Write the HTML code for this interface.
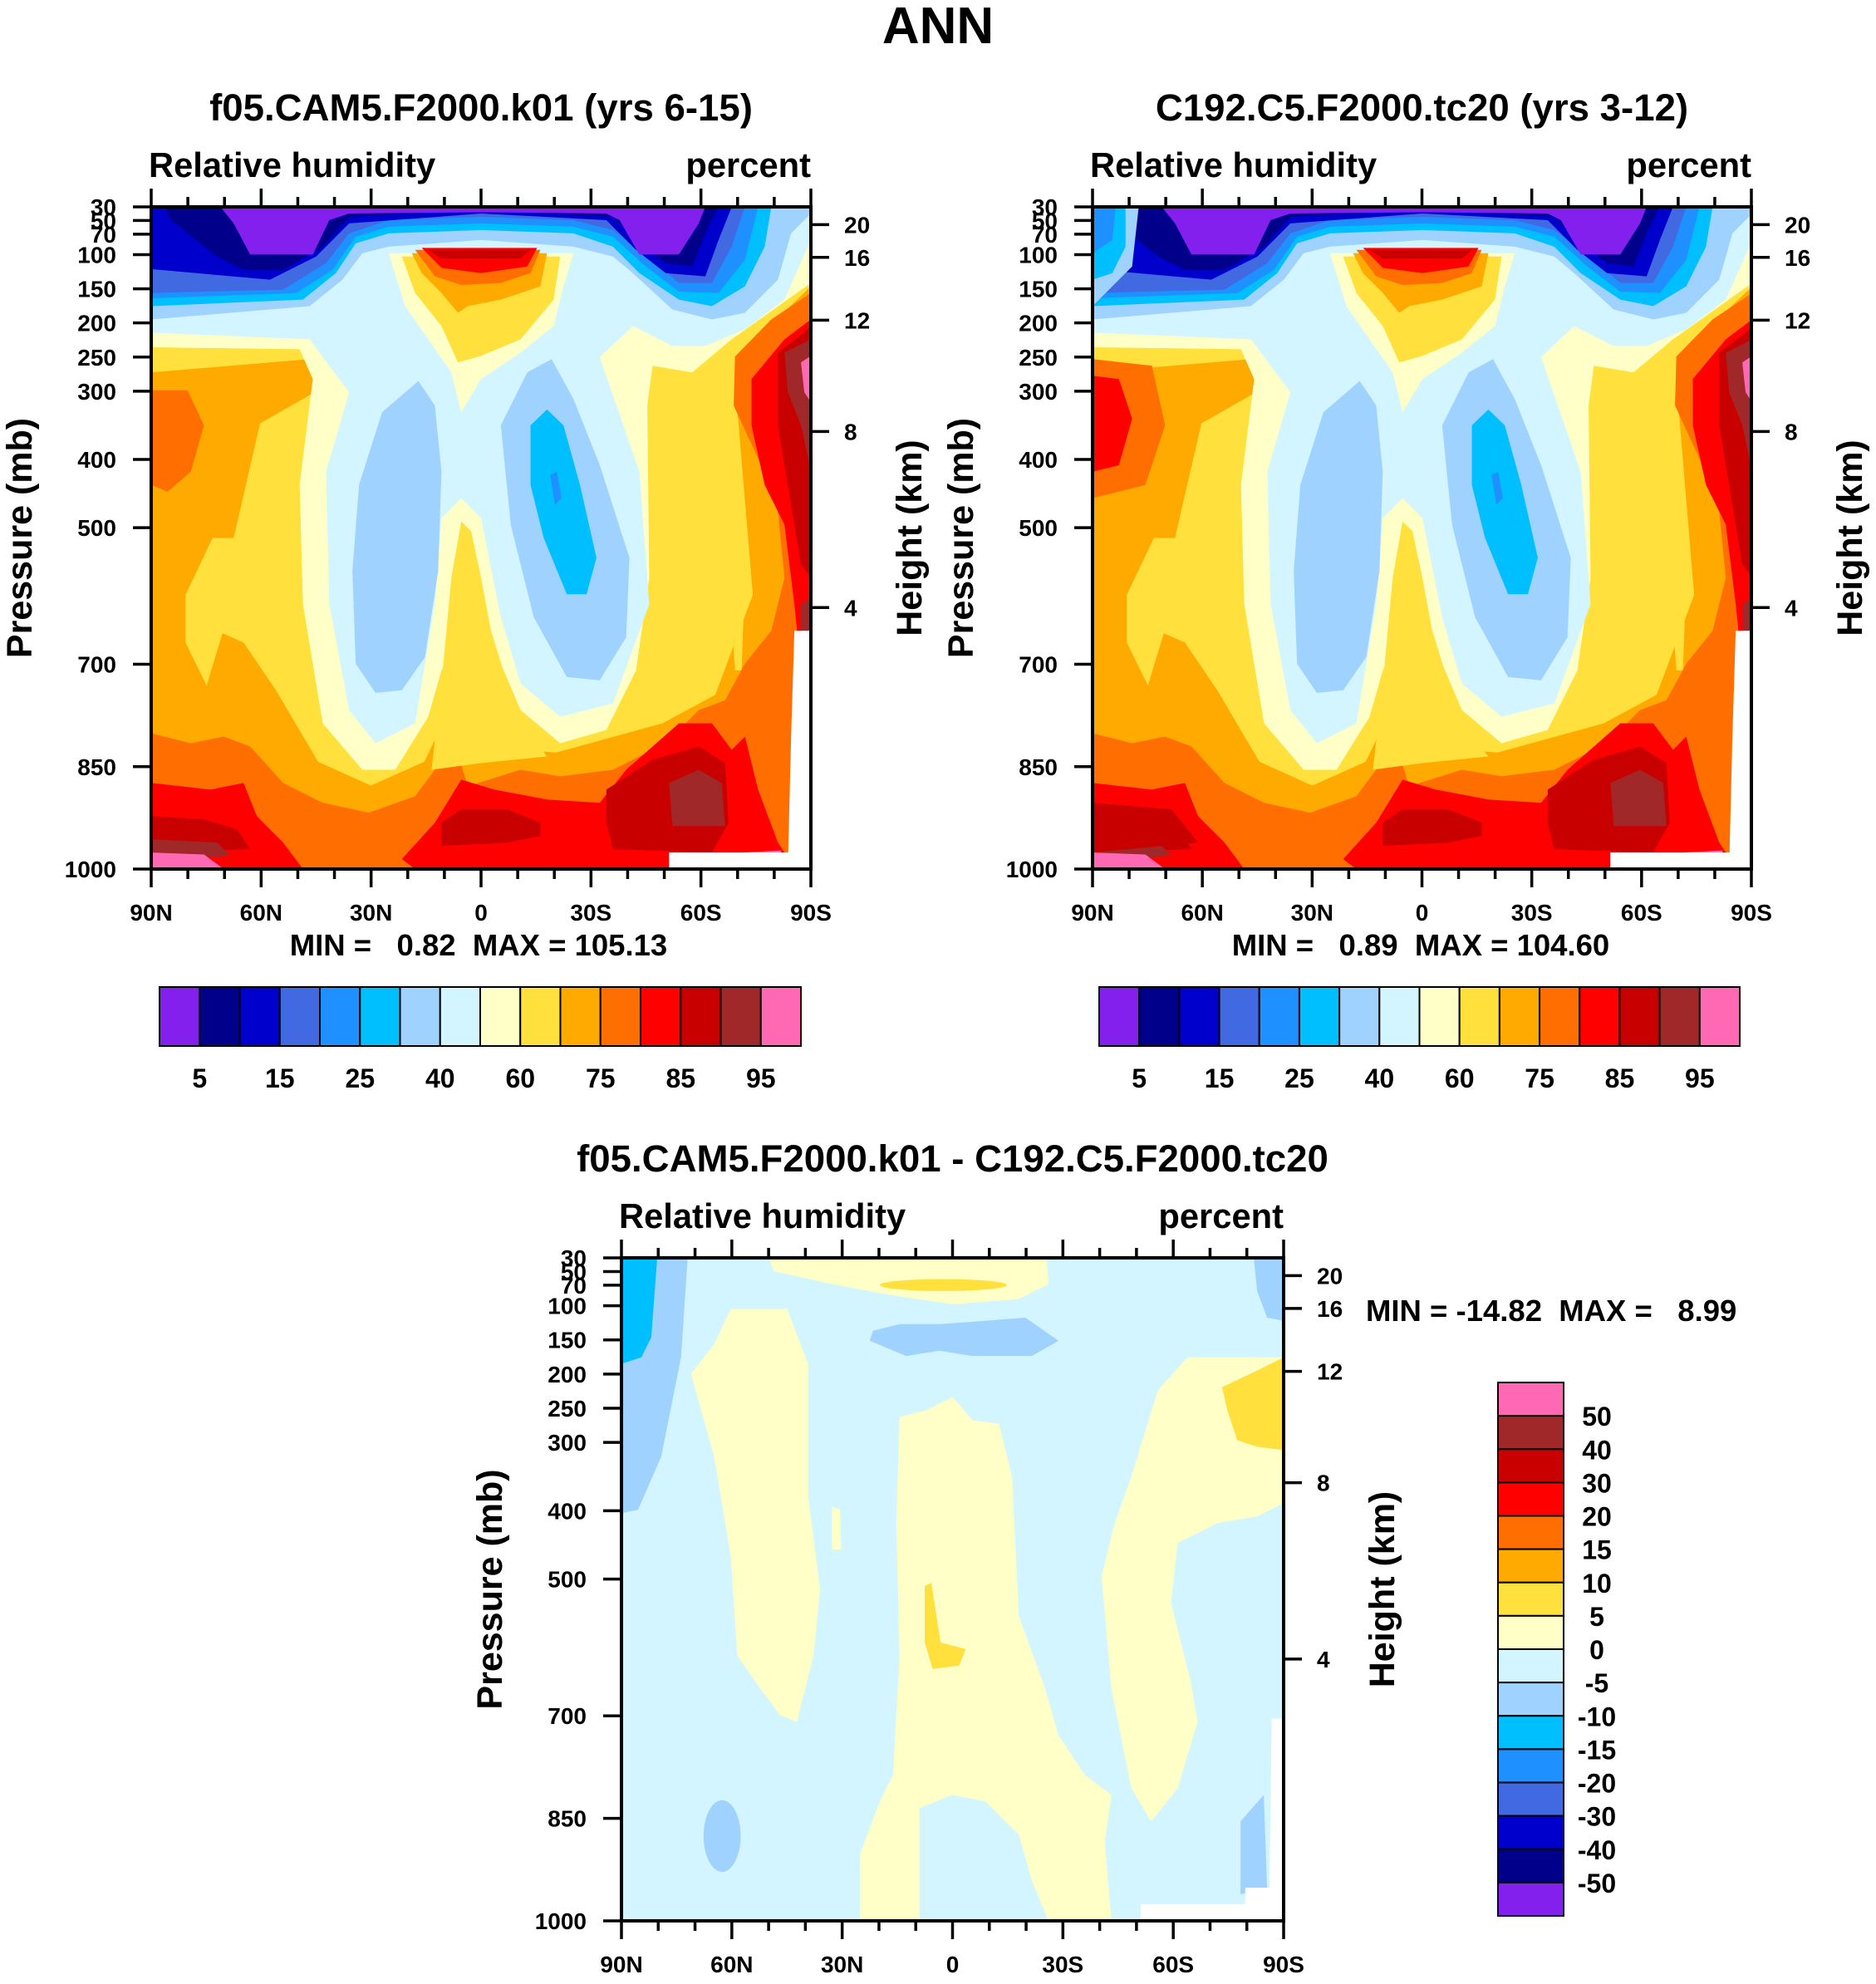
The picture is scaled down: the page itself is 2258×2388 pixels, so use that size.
<!DOCTYPE html>
<html><head><meta charset="utf-8">
<style>
html,body{margin:0;padding:0;background:#fff;}
svg text{font-family:"Liberation Sans",Arial,sans-serif;font-weight:bold;fill:#000;}
</style></head>
<body>
<svg id="root" width="2258" height="2383" viewBox="0 0 2258 2383" xmlns="http://www.w3.org/2000/svg">
<defs>
<symbol id="rhField" viewBox="0 0 1000 1000" preserveAspectRatio="none">
 <rect x="0" y="0" width="1000" height="1000" fill="#FFAA00"/>
 <path fill="#FFE03C" d="M0,100 L1000,100 L1000,120 L904,212 L888,300 L912,586 L855,737 L775,780 L614,824 L518,817 L470,723 L414,838 L333,874 L253,838 L189,730 L140,658 L108,644 L84,723 L52,658 L52,586 L93,500 L125,500 L165,327 L253,277 L240,230 L0,250 Z"/>
 <path fill="#FFE03C" d="M880,480 L893,470 L900,560 L895,700 L885,700 L878,600 Z"/>
 <path fill="#FF6E00" d="M0,277 L55,277 L80,330 L60,400 L25,430 L0,420 Z"/>
 <path fill="#FF6E00" d="M0,795 L60,810 L110,800 L150,815 L200,870 L260,900 L330,915 L400,890 L460,810 L480,875 L560,850 L620,860 L700,850 L780,810 L830,760 L870,745 L900,690 L940,640 L960,560 L950,460 L920,380 L883,300 L885,226 L940,170 L1000,130 L1000,1000 L0,1000 Z"/>
 <path fill="#FF0000" d="M0,870 L90,880 L140,870 L160,920 L200,960 L230,1000 L0,1000 Z"/>
 <path fill="#FF0000" d="M380,985 L430,930 L470,865 L520,880 L600,895 L680,900 L720,850 L800,780 L850,780 L880,820 L900,800 L920,880 L950,960 L960,975 L940,1000 L400,1000 Z"/>
 <path fill="#FF0000" d="M910,260 L960,200 L1000,170 L1000,700 L985,700 L975,600 L960,480 L930,420 L910,330 Z"/>
 <path fill="#C80000" d="M0,920 L80,925 L130,940 L150,970 L0,975 Z"/>
 <path fill="#C80000" d="M440,930 L470,910 L540,910 L590,930 L590,950 L540,960 L440,965 Z"/>
 <path fill="#C80000" d="M690,880 L760,835 L830,815 L870,840 L875,930 L850,975 L700,970 L690,930 Z"/>
 <path fill="#C80000" d="M950,220 L990,190 L1000,180 L1000,560 L985,540 L965,420 L950,330 Z"/>
 <path fill="#A02828" d="M0,955 L100,960 L120,980 L0,985 Z"/>
 <path fill="#A02828" d="M785,870 L830,850 L865,870 L870,935 L790,935 Z"/>
 <path fill="#A02828" d="M960,220 L1000,200 L1000,400 L985,330 L965,280 Z"/>
 <path fill="#A02828" d="M985,600 L1000,590 L1000,640 L985,640 Z"/>
 <path fill="#FF69B4" d="M0,975 L80,978 L110,1000 L0,1000 Z"/>
 <path fill="#FF69B4" d="M985,235 L1000,225 L1000,295 L990,280 Z"/>
 <path fill="#FF69B4" d="M895,975 L955,972 L955,982 L895,982 Z"/>
 <path fill="#FFFFC8" d="M0,0 L1000,0 L1000,115 L880,200 L820,250 L760,240 L752,300 L755,560 L735,700 L690,790 L620,810 L560,760 L530,690 L500,600 L470,640 L440,700 L420,770 L370,850 L320,850 L260,780 L230,600 L225,420 L245,260 L225,215 L0,212 Z"/>
 <path fill="#FFE03C" d="M425,850 L440,720 L455,560 L470,475 L485,490 L500,560 L515,640 L540,720 L570,790 L600,830 L500,840 Z"/>
 <path fill="#D2F5FF" d="M0,0 L1000,0 L1000,50 L960,140 L900,185 L840,210 L790,210 L730,180 L680,227 L740,400 L755,600 L700,750 L620,770 L560,720 L530,620 L500,470 L470,440 L440,470 L430,600 L400,780 L340,810 L300,760 L270,600 L265,400 L300,280 L240,200 L0,190 Z"/>
 <path fill="#A0D2FF" d="M405,263 L430,300 L440,400 L435,550 L415,680 L380,730 L340,734 L310,690 L305,550 L315,420 L350,310 Z"/>
 <path fill="#A0D2FF" d="M607,230 L640,290 L680,390 L725,530 L720,650 L680,715 L630,710 L580,620 L545,480 L530,330 L570,250 Z"/>
 <path fill="#00BFFF" d="M600,306 L625,330 L650,420 L675,530 L660,585 L630,585 L595,500 L575,420 L575,330 Z"/>
 <path fill="#1E90FF" d="M605,405 L615,400 L622,440 L612,450 Z"/>
 <path fill="#A0D2FF" d="M0,0 L1000,0 L1000,10 L970,40 L950,110 L900,160 L850,170 L790,155 L730,100 L700,75 L640,60 L500,50 L360,60 L320,70 L290,110 L240,150 L180,155 L0,170 Z"/>
 <path fill="#00BFFF" d="M0,0 L940,0 L930,60 L900,120 L850,150 L800,140 L740,100 L700,60 L640,40 L500,35 L360,40 L310,55 L280,100 L230,140 L0,150 Z"/>
 <path fill="#1E90FF" d="M0,0 L920,0 L900,80 L860,130 L800,128 L750,90 L700,45 L640,30 L500,25 L360,30 L310,45 L275,95 L220,130 L0,138 Z"/>
 <path fill="#4169E1" d="M0,0 L900,0 L880,60 L850,115 L800,115 L760,80 L700,35 L640,20 L500,15 L360,20 L300,40 L265,85 L200,125 L0,130 Z"/>
 <path fill="#0000CD" d="M0,0 L880,0 L860,50 L840,105 L780,100 L735,65 L690,20 L500,10 L300,25 L250,75 L180,110 L0,94 Z"/>
 <path fill="#00008B" d="M20,0 L860,0 L840,40 L820,90 L780,85 L740,55 L700,15 L500,5 L300,15 L260,60 L200,95 L140,95 L100,75 L30,20 Z"/>
 <path fill="#8420EE" d="M105,0 L840,0 L830,25 L800,72 L740,72 L710,20 L690,10 L500,8 L300,10 L270,20 L245,72 L150,72 L125,25 Z"/>
 <path fill="#FFFFC8" d="M360,70 L640,70 L625,120 L610,180 L560,220 L500,260 L470,310 L455,250 L420,200 L385,150 Z"/>
 <path fill="#FFE03C" d="M380,75 L620,75 L610,140 L560,200 L500,225 L465,235 L440,180 L400,130 Z"/>
 <path fill="#FFAA00" d="M395,70 L600,70 L590,120 L530,140 L480,150 L465,160 L440,130 L410,100 Z"/>
 <path fill="#FF6E00" d="M400,65 L590,65 L575,100 L530,115 L470,118 L430,105 Z"/>
 <path fill="#FF0000" d="M410,62 L585,62 L570,90 L500,100 L440,92 Z"/>
 <path fill="#C80000" d="M420,65 L575,65 L560,78 L440,78 Z"/>
 <path fill="#FFFFFF" d="M785,975 L1000,975 L1000,1000 L785,1000 Z"/>
 <path fill="#FFFFFF" d="M975,640 L1000,640 L1000,1000 L965,1000 L970,800 Z"/>
</symbol>
</defs>

<g id="panel1">
 <use href="#rhField" x="182" y="249" width="794" height="797"/>
</g>
<g id="panel2">
 <use href="#rhField" x="1315" y="249" width="794" height="797"/>
 <svg x="1315" y="249" width="794" height="797" viewBox="0 0 1000 1000" preserveAspectRatio="none">
  <path fill="#FF6E00" d="M0,230 L90,240 L110,330 L80,420 L0,440 Z"/>
  <path fill="#FF0000" d="M0,255 L40,260 L60,320 L40,390 L0,400 Z"/>
  <path fill="#A0D2FF" d="M0,0 L70,0 L60,90 L0,150 Z"/>
  <path fill="#00BFFF" d="M0,0 L50,0 L50,60 L30,100 L0,110 Z"/>
  <path fill="#1E90FF" d="M0,0 L35,0 L30,50 L0,70 Z"/>
  <path fill="#C80000" d="M0,900 L120,910 L160,960 L0,975 Z"/>
 </svg>
</g>
<g id="panel3">
 <svg x="748" y="1514" width="797" height="798" viewBox="0 0 1000 1000" preserveAspectRatio="none">
  <rect x="0" y="0" width="1000" height="1000" fill="#D2F5FF"/>
  <path fill="#A0D2FF" d="M0,0 L100,0 L90,150 L60,300 L25,380 L0,385 Z"/>
  <path fill="#00BFFF" d="M0,0 L54,0 L45,120 L30,150 L0,160 Z"/>
  <path fill="#A0D2FF" d="M955,0 L1000,0 L1000,95 L975,90 L960,50 Z"/>
  <path fill="#A0D2FF" d="M935,850 L970,810 L975,950 L935,960 Z"/>
  <path fill="#FFFFC8" d="M222,0 L642,0 L645,40 L600,62 L500,70 L400,55 L320,40 L230,20 Z"/>
  <ellipse fill="#FFE03C" cx="486" cy="41" rx="96" ry="9"/>
  <path fill="#A0D2FF" d="M380,110 L420,100 L480,100 L550,95 L610,90 L660,125 L620,148 L530,148 L480,140 L430,148 L375,125 Z"/>
  <path fill="#FFFFC8" d="M165,77 L250,77 L282,160 L282,360 L300,500 L290,600 L265,700 L240,690 L210,650 L175,600 L165,450 L140,300 L105,175 L140,130 Z"/>
  <path fill="#FFFFC8" d="M318,375 L330,380 L332,440 L318,440 Z"/>
  <path fill="#FFFFC8" d="M420,240 L460,230 L500,210 L530,245 L570,250 L590,330 L600,540 L640,650 L660,720 L700,780 L740,810 L730,880 L740,1000 L360,1000 L360,900 L390,820 L410,780 L420,600 L415,400 Z"/>
  <path fill="#D2F5FF" d="M450,1000 L450,830 L500,810 L550,820 L600,870 L620,940 L645,1000 Z"/>
  <path fill="#FFE03C" d="M458,495 L468,490 L482,580 L520,590 L510,615 L470,620 L458,580 Z"/>
  <path fill="#FFFFC8" d="M855,150 L1000,150 L1000,370 L960,390 L900,400 L840,430 L830,520 L860,640 L870,700 L840,800 L800,850 L770,800 L740,650 L725,480 L745,400 L770,330 L810,200 Z"/>
  <path fill="#FFE03C" d="M907,195 L960,170 L1000,150 L1000,290 L960,285 L930,275 L915,230 Z"/>
  <ellipse fill="#A0D2FF" cx="152" cy="872" rx="28" ry="54"/>
  <path fill="#FFFFFF" d="M784,975 L942,975 L942,950 L1000,950 L1000,1000 L784,1000 Z"/>
  <path fill="#FFFFFF" d="M982,695 L1000,695 L1000,1000 L978,1000 Z"/>
 </svg>
</g>
<g id="axes"></g>
</svg>

<script>
const pTicks = [30,50,70,100,150,200,250,300,400,500,700,850,1000];
const hLabels = [20,16,12,8,4];
const hPress = [56,104,196,359,617];
const latLabels = ["90N","60N","30N","0","30S","60S","90S"];
const latMajor = [-90,-60,-30,0,30,60,90];
const cbColorsH = ["#8420EE","#00008B","#0000CD","#4169E1","#1E90FF","#00BFFF","#A0D2FF","#D2F5FF","#FFFFC8","#FFE03C","#FFAA00","#FF6E00","#FF0000","#C80000","#A02828","#FF69B4"];
const cbLabelsH = ["5","15","25","40","60","75","85","95"];
const cbColorsV = ["#FF69B4","#A02828","#C80000","#FF0000","#FF6E00","#FFAA00","#FFE03C","#FFFFC8","#D2F5FF","#A0D2FF","#00BFFF","#1E90FF","#4169E1","#0000CD","#00008B","#8420EE"];
const cbLabelsV = ["50","40","30","20","15","10","5","0","-5","-10","-15","-20","-30","-40","-50"];

const NS = "http://www.w3.org/2000/svg";
const axes = document.getElementById('axes');
function mk(tag, attrs, parent){
  const e = document.createElementNS(NS, tag);
  for (const k in attrs) e.setAttribute(k, attrs[k]);
  (parent||axes).appendChild(e);
  return e;
}
function txt(x,y,s,size,anchor,parent){
  const t = mk('text',{x:x,y:y,'font-size':size,'text-anchor':anchor||'start'},parent);
  t.setAttribute('style','white-space:pre');
  t.textContent = s;
  return t;
}
function panel(f, name, title, mm, mmx, mmy, mmAnchor){
  const g = mk('g',{});
  
  
  const yOf = p => f.y0 + (p-30)/970*(f.y1-f.y0);
  const xOf = lat => f.x0 + (lat+90)/180*(f.x1-f.x0);
  const fr = mk('rect',{x:f.x0,y:f.y0,width:f.x1-f.x0,height:f.y1-f.y0,fill:'none',stroke:'#000','stroke-width':4},g);
  
  
  for (let lat=-90; lat<=90; lat+=10){
    const x = xOf(lat), major = lat%30===0, L = major?22:12;
    mk('line',{x1:x,x2:x,y1:f.y1,y2:f.y1+L,stroke:'#000','stroke-width':3.5},g);
    mk('line',{x1:x,x2:x,y1:f.y0,y2:f.y0-L,stroke:'#000','stroke-width':3.5},g);
  }
  latMajor.forEach((lat,i)=>{
    const t = txt(xOf(lat), f.y1+62, latLabels[i], 28, 'middle', g);
    
    
  });
  pTicks.forEach(p=>{
    const y = yOf(p);
    mk('line',{x1:f.x0-22,x2:f.x0,y1:y,y2:y,stroke:'#000','stroke-width':3.5},g);
    const t = txt(f.x0-42, y+10, String(p), 28, 'end', g);
    
    
  });
  hPress.forEach((p,i)=>{
    const y = yOf(p);
    mk('line',{x1:f.x1,x2:f.x1+22,y1:y,y2:y,stroke:'#000','stroke-width':3.5},g);
    const t = txt(f.x1+40, y+10, String(hLabels[i]), 28, 'start', g);
    
    
  });
  const cy = (f.y0+f.y1)/2;
  const yl = txt(0,0,'Pressure (mb)',43,'middle',g);
  yl.setAttribute('transform','translate('+(f.x0-144)+','+cy+') rotate(-90)');
  
  
  const hl = txt(0,0,'Height (km)',43,'middle',g);
  hl.setAttribute('transform','translate('+(f.x1+133)+','+cy+') rotate(-90)');
  
  
  const lt = txt(f.x0-3, f.y0-36, 'Relative humidity', 41.7, 'start', g);
  
  
  const ut = txt(f.x1, f.y0-36, 'percent', 41.7, 'end', g);
  
  
  const tt = txt((f.x0+f.x1)/2, f.y0-104, title, 45.6, 'middle', g);
  
  
  const m = txt(mmx, mmy, mm, 36.5, mmAnchor, g);
  
  
}
function hbar(x0,x1,y0,y1){
  const g = mk('g',{});
  
  
  const w = (x1-x0)/cbColorsH.length;
  cbColorsH.forEach((c,i)=>{
    const r = mk('rect',{x:x0+i*w,y:y0,width:w,height:y1-y0,fill:c,stroke:'#000','stroke-width':2},g);
    
    
  });
  cbLabelsH.forEach((s,i)=>{
    const t = txt(x0+(2*i+1)*w, y1+50, s, 32, 'middle', g);
    
    
  });
}
function vbar(x0,x1,y0,y1){
  const g = mk('g',{});
  
  
  const h = (y1-y0)/cbColorsV.length;
  cbColorsV.forEach((c,i)=>{
    const r = mk('rect',{x:x0,y:y0+i*h,width:x1-x0,height:h,fill:c,stroke:'#000','stroke-width':2},g);
    
    
  });
  cbLabelsV.forEach((s,i)=>{
    const t = txt(x1+40, y0+(i+1)*h+12, s, 32, 'middle', g);
    
    
  });
}
const ann = txt(1129, 52, 'ANN', 62, 'middle');


panel({x0:182,x1:976,y0:249,y1:1046}, 'model', 'f05.CAM5.F2000.k01 (yrs 6-15)', 'MIN =   0.82  MAX = 105.13', 576, 1150, 'middle');
panel({x0:1315,x1:2108,y0:249,y1:1046}, 'obs', 'C192.C5.F2000.tc20 (yrs 3-12)', 'MIN =   0.89  MAX = 104.60', 1710, 1150, 'middle');
panel({x0:748,x1:1545,y0:1514,y1:2312}, 'diff', 'f05.CAM5.F2000.k01 - C192.C5.F2000.tc20', 'MIN = -14.82  MAX =   8.99', 1644, 1590, 'start');
hbar(192,964,1188,1259);
hbar(1323,2094,1188,1259);
vbar(1803,1882,1664,2306);
</script>
</body></html>
